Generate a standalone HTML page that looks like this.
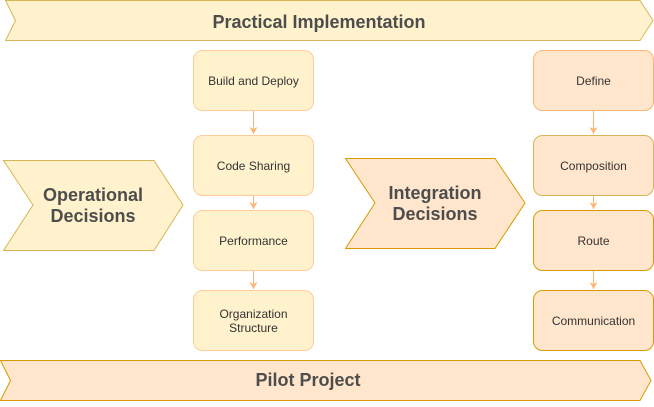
<!DOCTYPE html>
<html><head><style>body{margin:0;background:#fff}</style></head><body>
<svg width="654" height="402" viewBox="0 0 654 402" xmlns="http://www.w3.org/2000/svg" font-family="Liberation Sans, Arial, sans-serif">
<defs><marker id="b" markerWidth="8" markerHeight="8" refX="4" refY="7" markerUnits="userSpaceOnUse"><path d="M0,0 L4,7 L8,0 L4,2 Z" fill="#ffb570"/></marker></defs>
<polygon points="5.5,0.5 640,0.5 653,20.5 640,40.5 5.5,40.5 15.5,20.5" fill="#fff2cc" stroke="#d6b656"/>
<text x="319" y="28" text-anchor="middle" font-size="18" font-weight="bold" fill="#4d4d4d">Practical Implementation</text>
<polygon points="0.5,360.5 640,360.5 651,380.5 640,400.5 0.5,400.5 10.5,380.5" fill="#ffe6cc" stroke="#d79b00"/>
<text x="308" y="386" text-anchor="middle" font-size="18" font-weight="bold" fill="#4d4d4d">Pilot Project</text>
<polygon points="3.5,160.5 154,160.5 183,205 154,250.5 3.5,250.5 33,205" fill="#fff2cc" stroke="#d6b656"/>
<text x="93" y="201" text-anchor="middle" font-size="18" font-weight="bold" fill="#4d4d4d">Operational</text>
<text x="93" y="222" text-anchor="middle" font-size="18" font-weight="bold" fill="#4d4d4d">Decisions</text>
<polygon points="345.5,158.5 495,158.5 525,203 495,248.5 345.5,248.5 375,203" fill="#ffe6cc" stroke="#d79b00"/>
<text x="435" y="199" text-anchor="middle" font-size="18" font-weight="bold" fill="#4d4d4d">Integration</text>
<text x="435" y="220" text-anchor="middle" font-size="18" font-weight="bold" fill="#4d4d4d">Decisions</text>
<g stroke="#ffb570" stroke-width="1">
<line x1="253.5" y1="110" x2="253.5" y2="134" marker-end="url(#b)"/>
<line x1="253.5" y1="195" x2="253.5" y2="209" marker-end="url(#b)"/>
<line x1="253.5" y1="270" x2="253.5" y2="289" marker-end="url(#b)"/>
<line x1="593.5" y1="110" x2="593.5" y2="134" marker-end="url(#b)"/>
<line x1="593.5" y1="195" x2="593.5" y2="209" marker-end="url(#b)"/>
<line x1="593.5" y1="270" x2="593.5" y2="289" marker-end="url(#b)"/>
</g>
<g fill="#fff2cc" stroke="#ffcc99">
<rect x="193.5" y="50.5" width="120" height="60" rx="9"/>
<rect x="193.5" y="135.5" width="120" height="60" rx="9"/>
<rect x="193.5" y="210.5" width="120" height="60" rx="9"/>
<rect x="193.5" y="290.5" width="120" height="60" rx="9"/>
</g>
<g fill="#ffe6cc" stroke="#d79b00">
<rect x="533.5" y="50.5" width="120" height="60" rx="9" stroke="#ffb570"/>
<rect x="533.5" y="135.5" width="120" height="60" rx="9" stroke="#d6b656"/>
<rect x="533.5" y="210.5" width="120" height="60" rx="9"/>
<rect x="533.5" y="290.5" width="120" height="60" rx="9"/>
</g>
<g font-size="12" fill="#333" text-anchor="middle">
<text x="253.5" y="85">Build and Deploy</text>
<text x="253.5" y="170">Code Sharing</text>
<text x="253.5" y="245">Performance</text>
<text x="253.5" y="318">Organization</text>
<text x="253.5" y="332">Structure</text>
<text x="593.5" y="85">Define</text>
<text x="593.5" y="170">Composition</text>
<text x="593.5" y="245">Route</text>
<text x="593.5" y="325">Communication</text>
</g>
</svg>
</body></html>
